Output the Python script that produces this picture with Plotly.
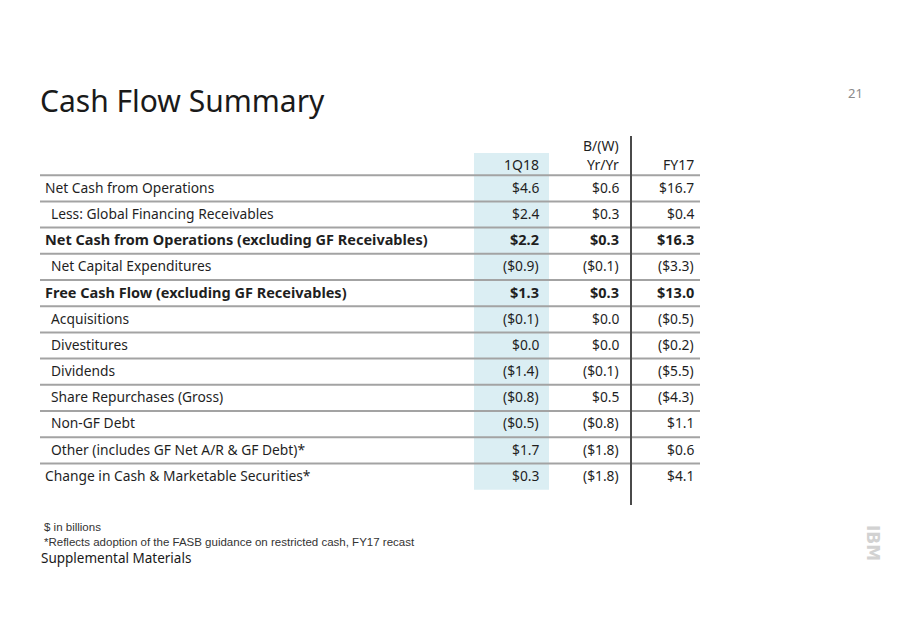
import plotly.graph_objects as go

# table data ($ in billions)
row_labels = [
    "Net Cash from Operations",
    "Less: Global Financing Receivables",
    "Net Cash from Operations (excluding GF Receivables)",
    "Net Capital Expenditures",
    "Free Cash Flow (excluding GF Receivables)",
    "Acquisitions",
    "Divestitures",
    "Dividends",
    "Share Repurchases (Gross)",
    "Non-GF Debt",
    "Other (includes GF Net A/R & GF Debt)*",
    "Change in Cash & Marketable Securities*",
]
indented = [False, True, False, True, False, True, True, True, True, True, True, False]
bold_rows = [False, False, True, False, True, False, False, False, False, False, False, False]

q1_18 = ["$4.6", "$2.4", "$2.2", "($0.9)", "$1.3", "($0.1)", "$0.0", "($1.4)", "($0.8)", "($0.5)", "$1.7", "$0.3"]
yr_yr = ["$0.6", "$0.3", "$0.3", "($0.1)", "$0.3", "$0.0", "$0.0", "($0.1)", "$0.5", "($0.8)", "($1.8)", "($1.8)"]
fy17 = ["$16.7", "$0.4", "$16.3", "($3.3)", "$13.0", "($0.5)", "($0.2)", "($5.5)", "($4.3)", "$1.1", "$0.6", "$4.1"]

col_headers = ["1Q18", "Yr/Yr", "FY17"]
col_values = [q1_18, yr_yr, fy17]

# layout constants (x in axis units = screen px, y in row units)
col_right = [541, 621, 696]
label_x = 43
indent_x = 49
table_left, table_right = 40, 700
hl_left, hl_right = 474, 549
vline_x = 631

W, H = 902, 635
OFF = 8  # page body margin around the plot div

FONT = "Noto Sans"
TXT = "#1f1f1f"
n = len(row_labels)
row_px, row0_px = 26.2, 187


def px(x, y):
    # screen pixel -> paper coords
    return (x - OFF) / W, 1 - (y - OFF) / H


fig = go.Figure()
fig.add_trace(go.Scatter(x=[0], y=[0], mode="markers", marker=dict(opacity=0),
                         hoverinfo="skip", showlegend=False))

shapes = []
# highlighted 1Q18 column
shapes.append(dict(type="rect", xref="x", yref="y", x0=hl_left, x1=hl_right,
                   y0=-1.3, y1=n - 0.44, fillcolor="#dbeef3", line_width=0, layer="below"))
# row separators
for i in range(n):
    shapes.append(dict(type="line", xref="x", yref="y", x0=table_left, x1=table_right,
                       y0=i - 0.45, y1=i - 0.45, line=dict(color="#a3a3a3", width=2)))
# vertical divider before FY17
shapes.append(dict(type="line", xref="x", yref="y", x0=vline_x, x1=vline_x,
                   y0=-1.95, y1=n + 0.14, line=dict(color="#4a4a4a", width=2)))

ann = []
for i, lab in enumerate(row_labels):
    b = bold_rows[i]
    size = 14.5 if b else 13.8
    ann.append(dict(x=indent_x if indented[i] else label_x, y=i, xref="x", yref="y",
                    text=f"<b>{lab}</b>" if b else lab, showarrow=False,
                    xanchor="left", yanchor="middle",
                    font=dict(family=FONT, size=size, color=TXT)))
    for c, vals in enumerate(col_values):
        ann.append(dict(x=col_right[c], y=i, xref="x", yref="y",
                        text=f"<b>{vals[i]}</b>" if b else vals[i], showarrow=False,
                        xanchor="right", yanchor="middle",
                        font=dict(family=FONT, size=size, color=TXT)))
for c, h in enumerate(col_headers):
    ann.append(dict(x=col_right[c], y=-0.84, xref="x", yref="y", text=h, showarrow=False,
                    xanchor="right", yanchor="middle", font=dict(family=FONT, size=14, color=TXT)))
ann.append(dict(x=col_right[1], y=-1.6, xref="x", yref="y", text="B/(W)", showarrow=False,
                xanchor="right", yanchor="middle", font=dict(family=FONT, size=14, color=TXT)))

# slide text
def note(x, y, text, anchor="left", **font):
    fx, fy = px(x, y)
    ann.append(dict(x=fx, y=fy, xref="paper", yref="paper", text=text, showarrow=False,
                    xanchor=anchor, yanchor="middle", font=font))


note(38, 100, "Cash Flow Summary", family=FONT, size=30, color="#1a1a1a")
note(855, 93, "21", anchor="center", family=FONT, size=13, color="#8a8a8a")
note(42, 527, "$ in billions", family="Liberation Sans", size=11.5, color="#333333")
note(42, 542, "*Reflects adoption of the FASB guidance on restricted cash, FY17 recast",
     family="Liberation Sans", size=11.5, color="#333333")
note(39, 558, "Supplemental Materials", family=FONT, size=13.5, color="#1a1a1a")
lx, ly = px(873, 543)
ann.append(dict(x=lx, y=ly, xref="paper", yref="paper", text="<b>IBM</b>", showarrow=False,
                xanchor="center", yanchor="middle", textangle=90,
                font=dict(family="DejaVu Sans", size=17, color="#d2d2d2")))

# axes mapped so that data units equal screen pixels / row positions
y_top = (OFF - row0_px) / row_px
y_bot = (OFF + H - row0_px) / row_px
fig.update_layout(
    width=W, height=H,
    margin=dict(l=0, r=0, t=0, b=0),
    paper_bgcolor="white", plot_bgcolor="white",
    xaxis=dict(range=[OFF, OFF + W], visible=False, fixedrange=True),
    yaxis=dict(range=[y_bot, y_top], visible=False, fixedrange=True),
    shapes=shapes, annotations=ann, showlegend=False,
)

fig.write_html("out.html")
